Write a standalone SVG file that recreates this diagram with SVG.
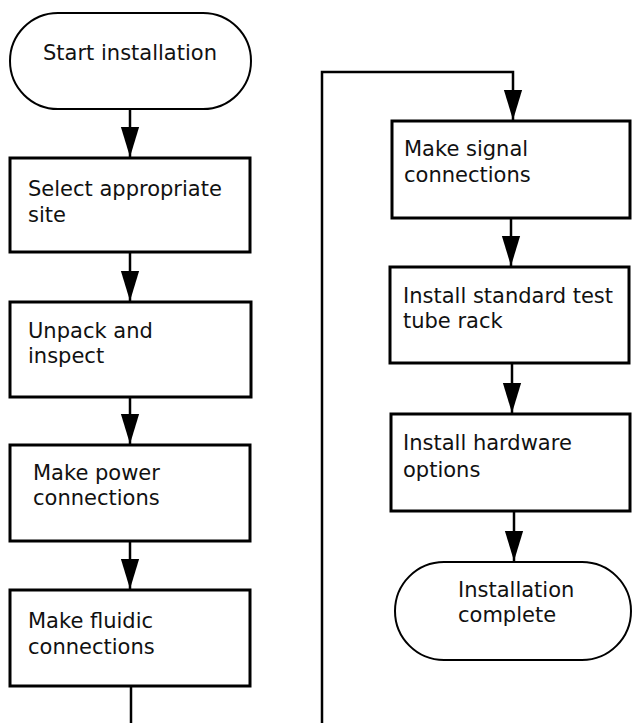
<svg xmlns="http://www.w3.org/2000/svg" width="632" height="723" viewBox="0 0 632 723">
<defs>
<marker id="arr" markerUnits="userSpaceOnUse" markerWidth="30" markerHeight="20" viewBox="0 0 28 17" refX="28" refY="8.5" orient="auto">
<path d="M0,0 L28,8.5 L0,17 z" fill="#000"/>
</marker>
<style>
.box{fill:#fff;stroke:#000;stroke-width:3}
.term{fill:#fff;stroke:#000;stroke-width:2}
.t{font-family:"DejaVu Sans","Verdana",sans-serif;font-size:21px;fill:#111}
.c{fill:none;stroke:#000;stroke-width:2.5}
</style>
</defs>
<g id="connectors">
<line class="c" x1="130" y1="109" x2="130" y2="157" marker-end="url(#arr)"/>
<line class="c" x1="130" y1="252" x2="130" y2="301" marker-end="url(#arr)"/>
<line class="c" x1="130" y1="397" x2="130" y2="444" marker-end="url(#arr)"/>
<line class="c" x1="130" y1="541" x2="130" y2="589" marker-end="url(#arr)"/>
<polyline class="c" points="131,686 131,724"/>
<polyline class="c" points="322,724 322,72 513,72 513,120" marker-end="url(#arr)"/>
<line class="c" x1="511" y1="218" x2="511" y2="266" marker-end="url(#arr)"/>
<line class="c" x1="512" y1="363" x2="512" y2="413" marker-end="url(#arr)"/>
<line class="c" x1="514" y1="511" x2="514" y2="561" marker-end="url(#arr)"/>
</g>
<g id="start">
<rect class="term" x="10" y="13" width="241" height="96" rx="48" ry="48"/>
<text class="t" x="130" y="60" text-anchor="middle">Start installation</text>
</g>
<g id="select-site">
<rect class="box" x="10" y="158" width="240" height="94"/>
<text class="t" x="28" y="196">Select appropriate</text>
<text class="t" x="28" y="222">site</text>
</g>
<g id="unpack">
<rect class="box" x="10" y="302" width="241" height="95"/>
<text class="t" x="28" y="338">Unpack and</text>
<text class="t" x="28" y="363">inspect</text>
</g>
<g id="power">
<rect class="box" x="10" y="445" width="240" height="96"/>
<text class="t" x="33" y="480">Make power</text>
<text class="t" x="33" y="505">connections</text>
</g>
<g id="fluidic">
<rect class="box" x="10" y="590" width="240" height="96"/>
<text class="t" x="28" y="628">Make fluidic</text>
<text class="t" x="28" y="654">connections</text>
</g>
<g id="signal">
<rect class="box" x="392" y="121" width="238" height="97"/>
<text class="t" x="404" y="156">Make signal</text>
<text class="t" x="404" y="182">connections</text>
</g>
<g id="rack">
<rect class="box" x="390" y="267" width="239" height="96"/>
<text class="t" x="403" y="303">Install standard test</text>
<text class="t" x="403" y="328">tube rack</text>
</g>
<g id="hardware">
<rect class="box" x="391" y="414" width="239" height="97"/>
<text class="t" x="403" y="450">Install hardware</text>
<text class="t" x="403" y="477">options</text>
</g>
<g id="complete">
<rect class="term" x="395" y="562" width="236" height="98" rx="49" ry="49"/>
<text class="t" x="458" y="597">Installation</text>
<text class="t" x="458" y="622">complete</text>
</g>
</svg>
